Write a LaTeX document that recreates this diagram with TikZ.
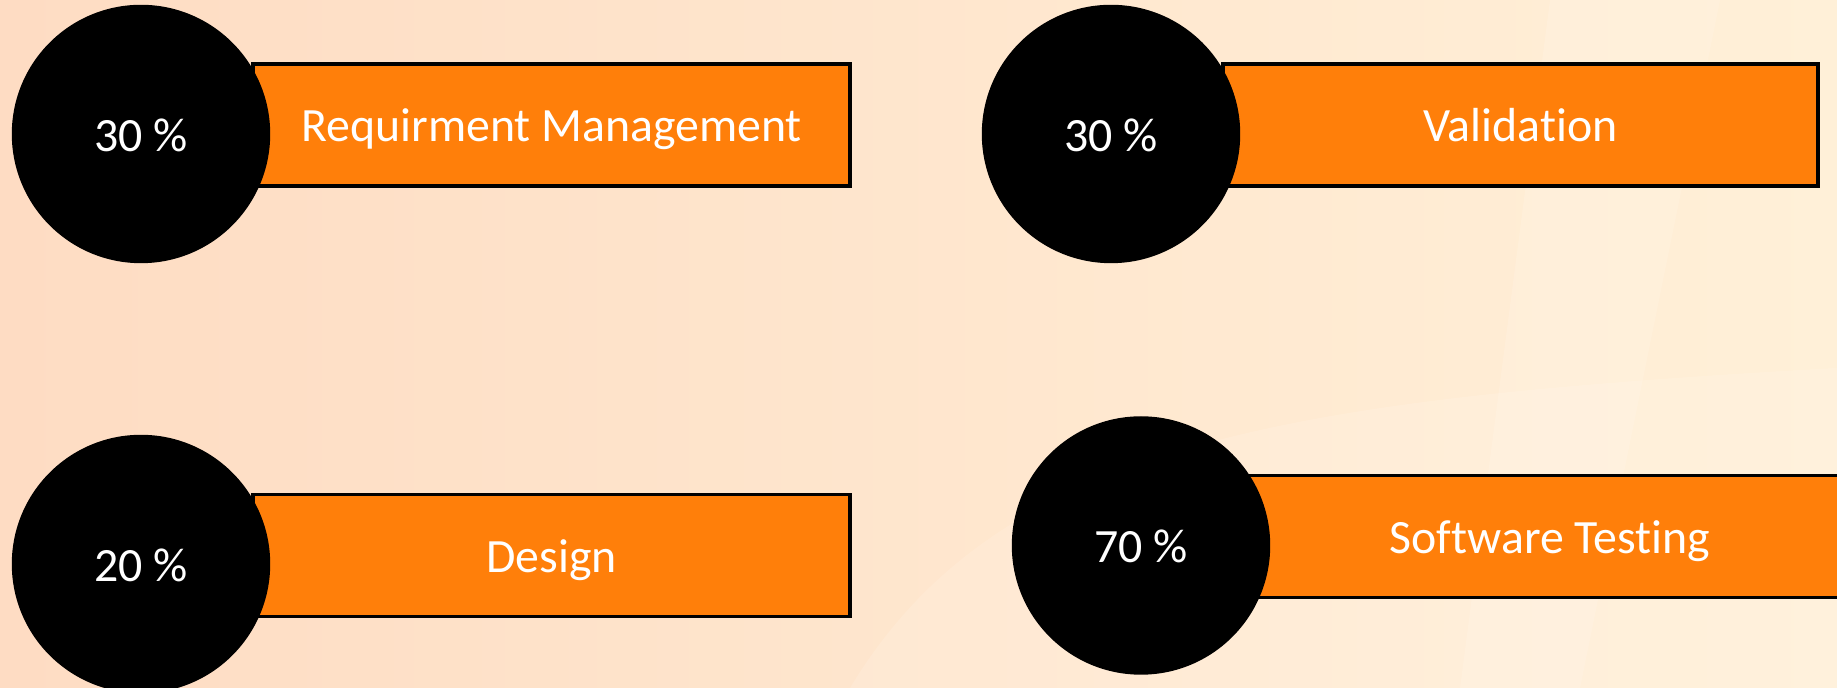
\documentclass[tikz,border=0pt]{standalone}
\usepackage{fontspec}
\setmainfont{Carlito}[Ligatures={NoCommon}]
\usetikzlibrary{shapes.geometric}
\definecolor{bgleft}{HTML}{FEDCC3}
\definecolor{bgright}{HTML}{FFF0D8}
\definecolor{barorange}{HTML}{FF7F0A}
\tikzset{
  bar/.style={draw=black, line width=0.9pt, fill=barorange, rectangle,
    minimum height=1.22cm, inner sep=0pt, text=white, text height=0.5cm, text depth=0.16cm,
    font=\fontsize{13.6}{16}\selectfont},
  pct/.style={circle, fill=black, draw=black, minimum size=2.57cm, inner sep=0pt,
    text=white, text height=0.5cm, text depth=0.15cm, font=\fontsize{13.6}{16}\selectfont}
}
\begin{document}
\begin{tikzpicture}
\useasboundingbox (0,0) rectangle (18.37,6.88);
\clip (0,0) rectangle (18.37,6.88);
\shade[left color=bgleft, right color=bgright] (0,0) rectangle (18.37,6.88);
\fill[white, opacity=0.12] (8.5,0) .. controls (10,2.5) and (13,2.9) .. (18.37,3.2) -- (18.37,0) -- cycle;
\fill[white, opacity=0.12] (15.5,6.88) -- (17.2,6.88) -- (15.8,0) -- (14.6,0) -- cycle;
% top left
\node[bar, minimum width=5.97cm] (r1) at (5.515,5.63) {Requirment Management};
\node[pct] (c1) at (1.41,5.54) {30 \%};
% top right
\node[bar, minimum width=5.95cm] (r2) at (15.205,5.63) {Validation};
\node[pct] (c2) at (11.11,5.54) {30 \%};
% bottom left
\node[bar, minimum width=5.97cm] (r3) at (5.515,1.325) {Design};
\node[pct] (c3) at (1.41,1.24) {20 \%};
% bottom right
\node[bar, minimum width=6.10cm] (r4) at (15.50,1.515) {Software Testing};
\node[pct] (c4) at (11.41,1.425) {70 \%};
\end{tikzpicture}
\end{document}
